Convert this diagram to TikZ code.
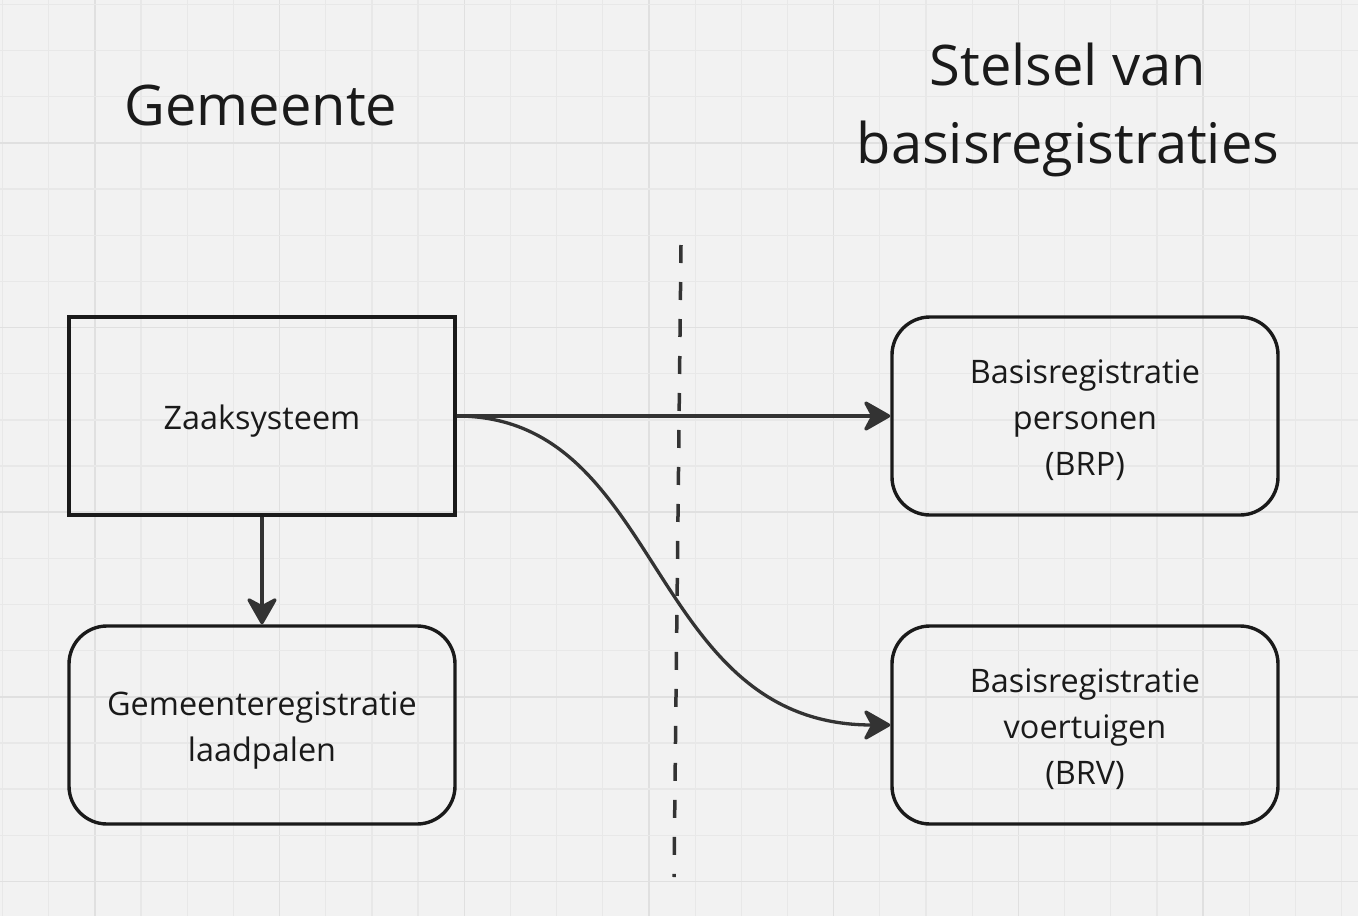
\documentclass[tikz,border=0pt]{standalone}
\usepackage{fontspec}
\setmainfont{Open Sans}
\usetikzlibrary{arrows.meta}
\definecolor{bg}{HTML}{F2F2F2}
\definecolor{gridminor}{HTML}{E8E8E8}
\definecolor{gridmajor}{HTML}{E0E0E0}
\definecolor{ink}{HTML}{1A1A1A}
\definecolor{conn}{HTML}{333333}
\newcommand{\boxtext}[1]{\raisebox{-4pt}[\height][\depth]{\begin{tabular}{@{}c@{}}#1\end{tabular}}}
\tikzset{
  box/.style={draw=ink, line width=3.4pt, minimum width=386pt, minimum height=198pt,
    inner sep=0pt, text=ink, font=\fontsize{32.4}{46}\selectfont},
  roundbox/.style={box, rounded corners=38pt},
  title/.style={align=center, text=ink, inner sep=0pt, font=\fontsize{56}{78}\selectfont},
  conn/.style={draw=conn, line width=3.3pt,
    -{Stealth[length=30pt,width=34pt,inset=9pt,round]}},
  divider/.style={draw=conn, line width=3.5pt, dash pattern=on 18pt off 19pt}
}
\begin{document}
\begin{tikzpicture}[x=1pt,y=-1pt]
\useasboundingbox (0,0) rectangle (1358,916);
\fill[bg] (0,0) rectangle (1358,916);
% grid
\foreach \k in {0,...,29}{
  \pgfmathsetmacro{\gx}{2.6+46.17*\k}
  \pgfmathtruncatemacro{\m}{mod(\k,4)}
  \ifnum\m=2
    \draw[gridmajor, line width=1.5pt] (\gx,0) -- (\gx,916);
  \else
    \draw[gridminor, line width=1.3pt] (\gx,0) -- (\gx,916);
  \fi
}
\foreach \k in {0,...,19}{
  \pgfmathsetmacro{\gy}{4.5+46.15*\k}
  \pgfmathtruncatemacro{\m}{mod(\k,4)}
  \ifnum\m=3
    \draw[gridmajor, line width=1.5pt] (0,\gy) -- (1358,\gy);
  \else
    \draw[gridminor, line width=1.3pt] (0,\gy) -- (1358,\gy);
  \fi
}
% titles
\node[title, anchor=base] (tgem) at (261,125) {Gemeente};
\node[title] (tstelsel) at (1068,110) {Stelsel van\\basisregistraties};
% boxes
\node[box] (zaak) at (262,416) {\boxtext{Zaaksysteem}};
\node[roundbox] (gem) at (262,725) {\boxtext{Gemeenteregistratie\\laadpalen}};
\node[roundbox] (brp) at (1085,416) {\boxtext{Basisregistratie\\personen\\(BRP)}};
\node[roundbox] (brv) at (1085,725) {\boxtext{Basisregistratie\\voertuigen\\(BRV)}};
% divider
\coordinate (dtop) at (681,245);
\coordinate (dbot) at (674,877);
\draw[divider] (dtop) -- (dbot);
% connectors
\draw[conn] (zaak.east) -- (brp.west);
\draw[conn] (zaak.east) .. controls +(208,0) and +(-245,0) .. (brv.west);
\draw[conn] (zaak.south) -- (gem.north);
\end{tikzpicture}
\end{document}
